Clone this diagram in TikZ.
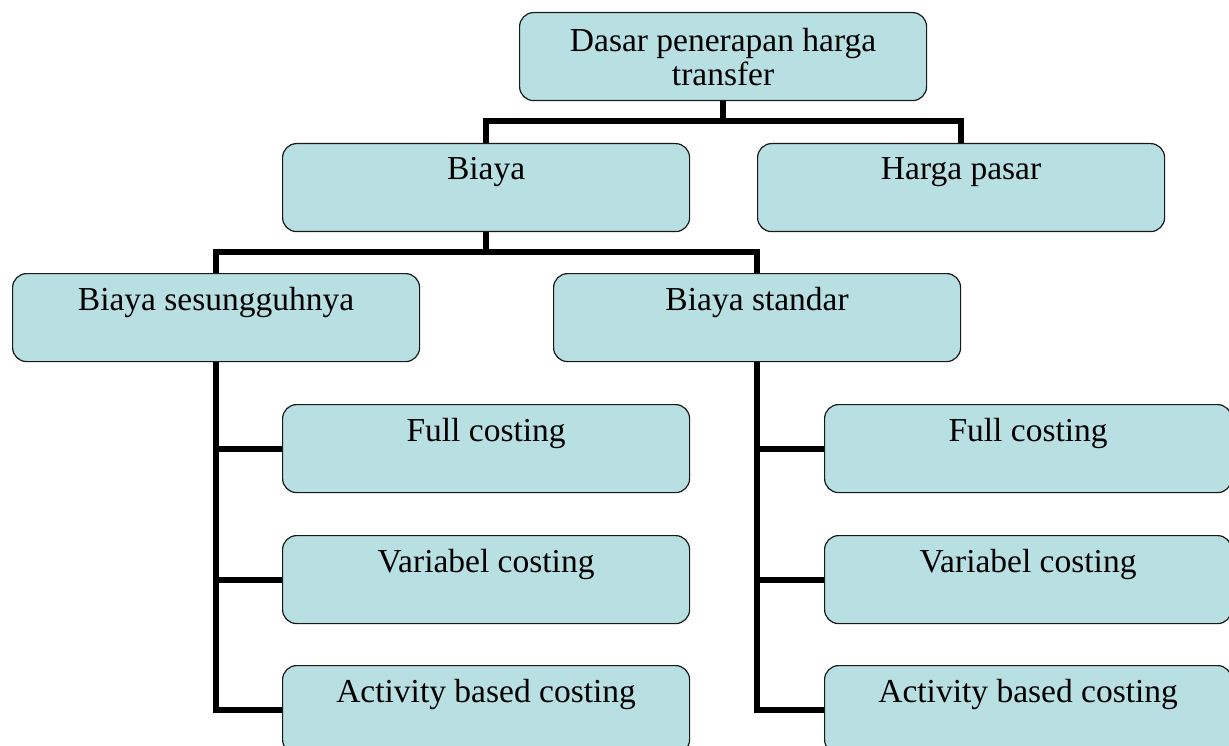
\documentclass[tikz,border=0pt]{standalone}
\usepackage{fontspec}
\setmainfont{Liberation Serif}
\definecolor{boxfill}{RGB}{184,223,226}
\definecolor{boxline}{RGB}{25,25,25}
\begin{document}
\begin{tikzpicture}[x=1pt,y=-1pt,
  box/.style={draw=boxline, line width=1.2pt, fill=boxfill, rounded corners=14pt,
    minimum width=407pt, minimum height=88pt, inner sep=0pt, anchor=north west},
  lbl/.style={font=\fontsize{33.5}{34}\selectfont, inner sep=0pt, anchor=base},
  link/.style={line width=6pt, draw=black, line join=miter}]
\useasboundingbox (0,0) rectangle (1229,746);
\clip (0,0) rectangle (1229,746);

% boxes
\node[box] (root)  at (519,12)  {};
\node[box] (biaya) at (282,143) {};
\node[box] (pasar) at (757,143) {};
\node[box] (real)  at (12,273)  {};
\node[box] (std)   at (553,273) {};
\node[box] (fullA) at (282,404) {};
\node[box] (varA)  at (282,535) {};
\node[box] (abcA)  at (282,665) {};
\node[box] (fullB) at (824,404) {};
\node[box] (varB)  at (824,535) {};
\node[box] (abcB)  at (824,665) {};

% labels
\node[lbl, align=center, anchor=north] (troot) at ([yshift=-16pt]root.north) {Dasar penerapan harga\\transfer};
\node[lbl] (tbiaya) at ([yshift=-37pt]biaya.north) {Biaya};
\node[lbl] (tpasar) at ([yshift=-37pt]pasar.north) {Harga pasar};
\node[lbl] (treal)  at ([yshift=-37pt]real.north)  {Biaya sesungguhnya};
\node[lbl] (tstd)   at ([yshift=-37pt]std.north)   {Biaya standar};
\node[lbl] (tfullA) at ([yshift=-37pt]fullA.north) {Full costing};
\node[lbl] (tvarA)  at ([yshift=-37pt]varA.north)  {Variabel costing};
\node[lbl] (tabcA)  at ([yshift=-37pt]abcA.north)  {Activity based costing};
\node[lbl] (tfullB) at ([yshift=-37pt]fullB.north) {Full costing};
\node[lbl] (tvarB)  at ([yshift=-37pt]varB.north)  {Variabel costing};
\node[lbl] (tabcB)  at ([yshift=-37pt]abcB.north)  {Activity based costing};

% bus lines
\coordinate (bus1) at (0,121);
\coordinate (bus2) at (0,252);

\draw[link] (root.south) -- (root.south |- bus1);
\draw[link] (biaya.north) -- (biaya.north |- bus1) -- (pasar.north |- bus1) -- (pasar.north);

\draw[link] (biaya.south) -- (biaya.south |- bus2);
\draw[link] (real.north) -- (real.north |- bus2) -- (std.north |- bus2) -- (std.north);

\draw[link] (real.south) |- (abcA.west);
\draw[link] (fullA.west) -- (fullA.west -| real.south);
\draw[link] (varA.west) -- (varA.west -| real.south);

\draw[link] (std.south) |- (abcB.west);
\draw[link] (fullB.west) -- (fullB.west -| std.south);
\draw[link] (varB.west) -- (varB.west -| std.south);
\end{tikzpicture}
\end{document}
